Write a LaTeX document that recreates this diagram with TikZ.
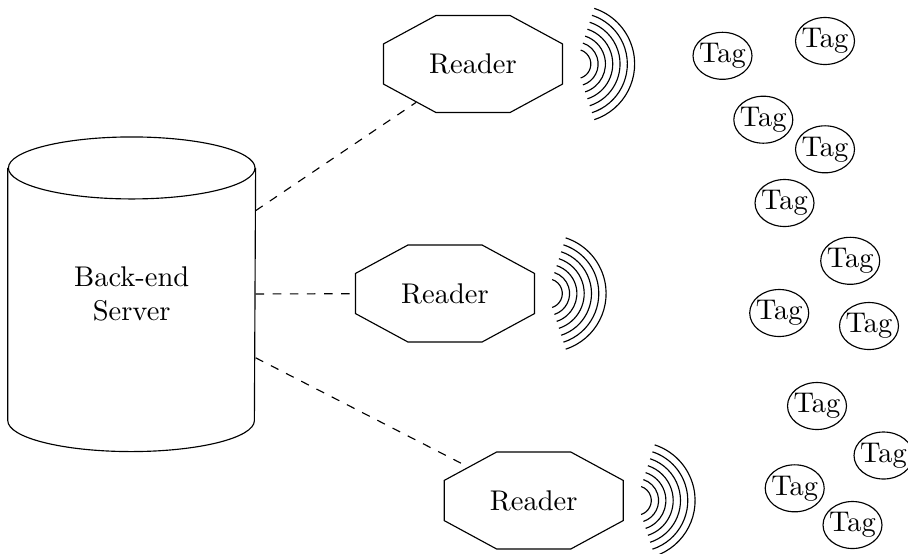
\documentclass[tikz,border=0pt]{standalone}
\usepackage{graphicx}
\usetikzlibrary{shapes.misc,shapes.geometric}
\newcommand{\readertext}{\scalebox{0.5162}[0.9525]{Reader}}
\begin{document}
\begin{tikzpicture}[x=0.3509pt, y=0.3509pt,
  reader/.style={regular polygon, regular polygon sides=8, draw, inner sep=0pt,
    minimum size=35.09pt, xscale=1.9374, yscale=1.0499},
  tag/.style={ellipse, draw, inner sep=0pt, minimum width=20.7pt, minimum height=16.49pt},
  server/.style={rectangle, inner sep=0pt, minimum width=86.57pt, minimum height=88.25pt, align=center},
  link/.style={dashed},
  wavearc/.style={line width=0.4pt}]
\useasboundingbox (0,0) rectangle (908,553);
% server (cylinder)
\node[server] (srv) at (131.7,258.75) {Back-end\\Server};
\draw (srv.north) ellipse [x radius=123.3, y radius=31];
\draw (srv.north west) -- (srv.south west) arc [start angle=180, end angle=360, x radius=123.3, y radius=31] -- (srv.north east);
% readers
\begin{scope}[shift={(473,489)}]
  \node[reader] (r1) at (0,0) {\readertext};
\end{scope}
\begin{scope}[shift={(445,259.5)}]
  \node[reader] (r2) at (0,0) {\readertext};
\end{scope}
\begin{scope}[shift={(533.7,52.5)}]
  \node[reader] (r3) at (0,0) {\readertext};
\end{scope}
% links
\draw[link] (srv) -- (r1);
\draw[link] (srv) -- (r2);
\draw[link] (srv) -- (r3);
% waves
\coordinate (w1) at ([xshift=4.39pt]r1.east);
\coordinate (w2) at ([xshift=4.2pt]r2.east);
\coordinate (w3) at ([xshift=4.3pt]r3.east);
\foreach \w in {w1,w2,w3}{
  \foreach \rd in {14.7,22.0,29.3,36.6,43.9,51.2,58.5}{
    \draw[wavearc] ([shift={(-72:\rd)}]\w) arc [start angle=-72, end angle=72, radius=\rd];
  }
}
% tags
\node[tag] (t1) at (722.5,497.2) {\makebox[0pt]{Tag}};
\node[tag] (t2) at (825,512) {\makebox[0pt]{Tag}};
\node[tag] (t3) at (763.3,433.3) {\makebox[0pt]{Tag}};
\node[tag] (t4) at (825,403.7) {\makebox[0pt]{Tag}};
\node[tag] (t5) at (784.5,350) {\makebox[0pt]{Tag}};
\node[tag] (t6) at (850.2,292.2) {\makebox[0pt]{Tag}};
\node[tag] (t7) at (779.2,240) {\makebox[0pt]{Tag}};
\node[tag] (t8) at (869,227) {\makebox[0pt]{Tag}};
\node[tag] (t9) at (817,147) {\makebox[0pt]{Tag}};
\node[tag] (t10) at (883.5,97.5) {\makebox[0pt]{Tag}};
\node[tag] (t11) at (794.7,64.7) {\makebox[0pt]{Tag}};
\node[tag] (t12) at (852.5,28) {\makebox[0pt]{Tag}};
\end{tikzpicture}
\end{document}
